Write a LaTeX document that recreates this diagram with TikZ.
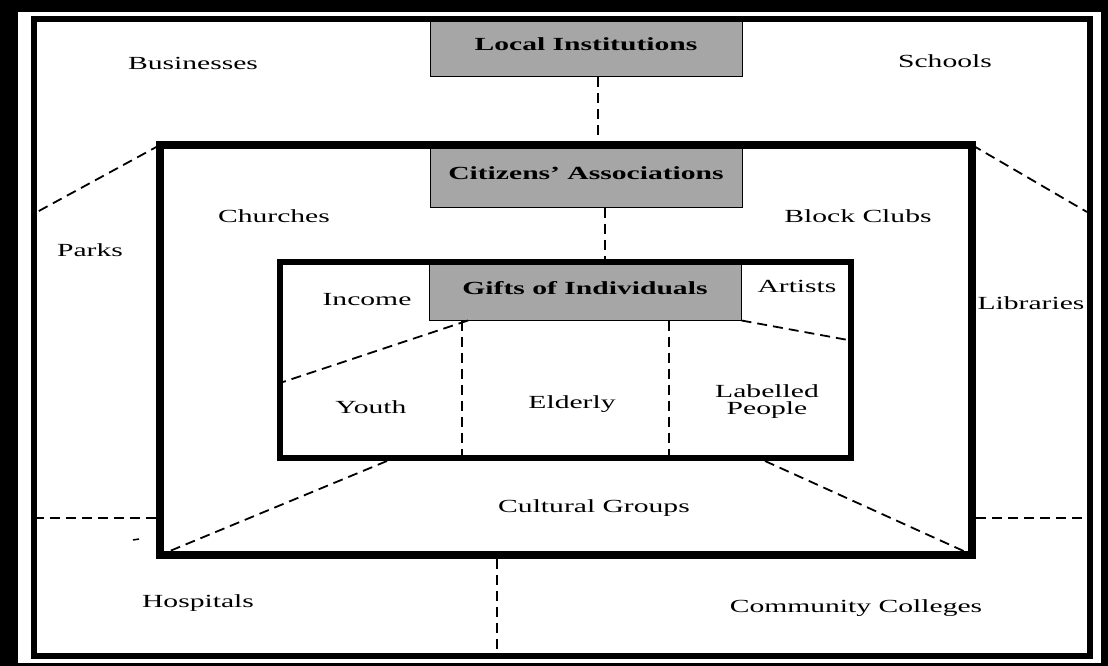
\documentclass[tikz,border=0pt]{standalone}
\usepackage{fontspec}
\setmainfont[FakeStretch=1.6]{Liberation Serif}
\tikzset{
  frameline/.style={line width=6pt},
  divider/.style={line width=1.8pt, dash pattern=on 10pt off 6pt},
  giftbox/.style={draw, line width=1pt, fill=black!35, minimum width=312pt,
    minimum height=58pt, font=\fontsize{18.5}{17}\selectfont\bfseries,
    text height=10pt, text depth=4pt},
  lbl/.style={anchor=base, inner sep=0pt}
}
\begin{document}
\begin{tikzpicture}[x=1pt, y=-1pt, font=\fontsize{18.5}{17}\selectfont]
\useasboundingbox (0,0) rectangle (1108,666);
\fill[black] (0,0) rectangle (1108,666);
\fill[white] (18,12) rectangle (1101,663);

% grey boxes
\node[giftbox] (li) at (586,48) {Local Institutions};
\node[giftbox, minimum height=62pt] (ca) at (586,176) {Citizens' Associations};
\node[giftbox] (gi) at (585,291) {Gifts of Individuals};

% frames
\coordinate (onw) at (34,19);   \coordinate (ose) at (1090,656);
\coordinate (mnw) at (160,145); \coordinate (mne) at (972,145);
\coordinate (msw) at (160,555); \coordinate (mse) at (972,555);
\coordinate (inw) at (280,262); \coordinate (ise) at (851,458);
\draw[frameline] (onw) rectangle (ose);
\draw[line width=8pt] (mnw) rectangle (mse);
\draw[frameline] (inw) rectangle (ise);

% ends of the dashed lines
\coordinate (ol1) at (37,212);   \coordinate (or1) at (1087,212);
\coordinate (ol2) at (37,518);   \coordinate (or2) at (1087,518);
\coordinate (ml2) at (156,518);  \coordinate (mr2) at (976,518);
\coordinate (ml3) at (165,553);  \coordinate (mr3) at (968,553);
\coordinate (il3) at (387,461);  \coordinate (ir3) at (765,461);
\coordinate (mb) at (497,559);   \coordinate (ob) at (497,653);
\coordinate (il1) at (283,382);  \coordinate (ir1) at (848,340);
\coordinate (ib1) at (462,455);  \coordinate (ib2) at (669,455);

\draw[divider] (li.south -| 598,0) -- (ca.north -| 598,0);
\draw[divider] (ca.south -| 605,0) -- (gi.north -| 605,0);
\draw[divider] (mnw) -- (ol1);
\draw[divider] (mne) -- (or1);
\draw[divider] (ml2) -- (ol2);
\draw[divider] (mr2) -- (or2);
\draw[divider] (il3) -- (ml3);
\draw[divider] (ir3) -- (mr3);
\draw[divider] (mb) -- (ob);
\draw[divider] (gi.south -| 468,0) -- (il1);
\draw[divider] (gi.south -| 462,0) -- (ib1);
\draw[divider] (gi.south -| 669,0) -- (ib2);
\draw[divider] (gi.south east) -- (ir1);
\draw[line width=1.5pt] (133,540) -- (139,539);

% labels
\node[lbl] (bus) at (193,70) {Businesses};
\node[lbl] (sch) at (945,68) {Schools};
\node[lbl] (prk) at (90,256) {Parks};
\node[lbl] (chu) at (274,222) {Churches};
\node[lbl] (blk) at (858,222) {Block Clubs};
\node[lbl] (lib) at (1031,309) {Libraries};
\node[lbl] (inc) at (367,305) {Income};
\node[lbl] (art) at (797,292) {Artists};
\node[lbl] (yth) at (371,413) {Youth};
\node[lbl] (eld) at (572,408) {Elderly};
\node[inner sep=0pt, align=center] (lab) at (767,402) {Labelled\\People};
\node[lbl] (cul) at (594,512) {Cultural Groups};
\node[lbl] (hos) at (198,607) {Hospitals};
\node[lbl] (cc) at (856,612) {Community Colleges};
\end{tikzpicture}
\end{document}
